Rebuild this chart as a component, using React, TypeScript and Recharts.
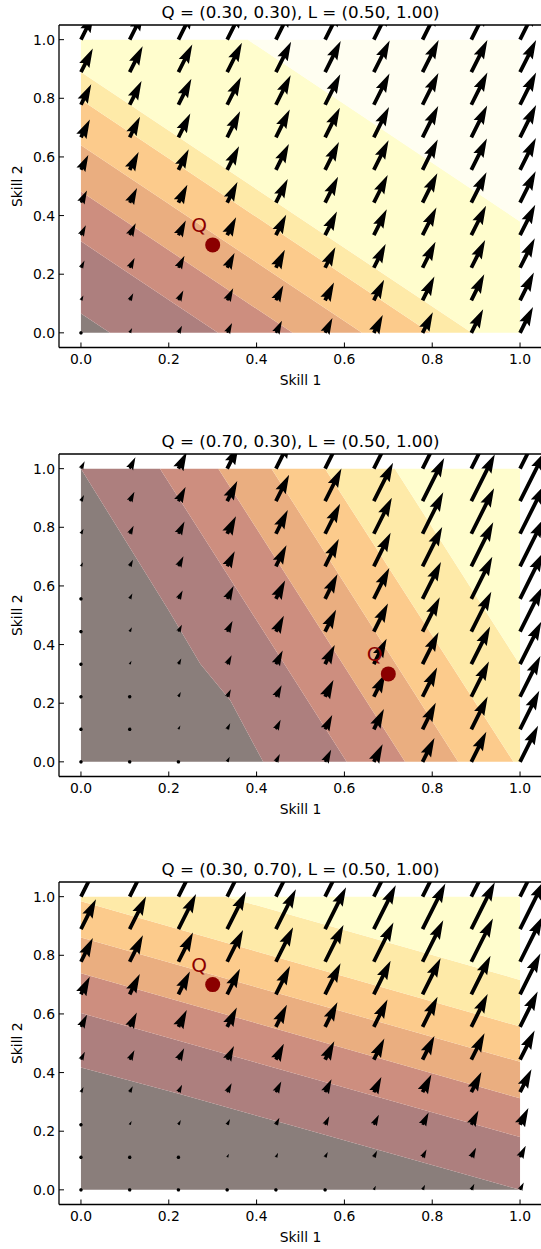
import React from "react";
import { ScatterChart, Scatter, XAxis, YAxis, Label } from "recharts";

const FONT = "'DejaVu Sans', sans-serif";

const axisTicks = [0, 0.2, 0.4, 0.6, 0.8, 1.0];
const gridPos = [0, 0.111, 0.222, 0.333, 0.444, 0.556, 0.667, 0.778, 0.889, 1.0];
const learnVec = [0.5, 1.0];

const titles = [
  "Q = (0.30, 0.30), L = (0.50, 1.00)",
  "Q = (0.70, 0.30), L = (0.50, 1.00)",
  "Q = (0.30, 0.70), L = (0.50, 1.00)",
];
const qPoints = [
  [0.3, 0.3],
  [0.7, 0.3],
  [0.3, 0.7],
];

// contour fill colours, low -> high
const bandColors = ["#8a7e7b", "#ad7f7e", "#cd8e7f", "#eaae80", "#fccb8c", "#feeaa8", "#fffdcd", "#fffef1"];

// filled contour bands (vertices in data units), low -> high
const bands1 = [
  [[0, 0], [0.066, 0], [0, 0.066]],
  [[0, 0.066], [0.066, 0], [0.312, 0], [0, 0.312]],
  [[0, 0.312], [0.312, 0], [0.482, 0], [0, 0.482]],
  [[0, 0.482], [0.482, 0], [0.64, 0], [0, 0.64]],
  [[0, 0.64], [0.64, 0], [0.795, 0], [0, 0.795]],
  [[0, 0.795], [0.795, 0], [0.89, 0], [0, 0.89]],
  [[0, 0.89], [0.89, 0], [1, 0], [1, 0.38], [0.38, 1], [0, 1]],
  [[0.38, 1], [1, 0.38], [1, 1]],
];
const bands2 = [
  [[0, 0], [0.415, 0], [0.34, 0.21], [0.272, 0.334], [0.2, 0.516], [0, 1]],
  [[0, 1], [0.2, 0.516], [0.272, 0.334], [0.34, 0.21], [0.415, 0], [0.605, 0], [0.18, 1]],
  [[0.18, 1], [0.605, 0], [0.738, 0], [0.313, 1]],
  [[0.313, 1], [0.738, 0], [0.859, 0], [0.434, 1]],
  [[0.434, 1], [0.859, 0], [0.985, 0], [0.556, 1]],
  [[0.556, 1], [0.985, 0], [1, 0], [1, 0.33], [0.715, 1]],
  [[0.715, 1], [1, 0.33], [1, 1]],
];
const bands3 = [
  [[0, 0], [1, 0], [0.45, 0.232], [0.225, 0.327], [0, 0.417]],
  [[0, 0.417], [0.225, 0.327], [0.45, 0.232], [1, 0], [1, 0.18], [0, 0.603]],
  [[0, 0.603], [1, 0.18], [1, 0.312], [0, 0.739]],
  [[0, 0.739], [1, 0.312], [1, 0.437], [0, 0.861]],
  [[0, 0.861], [1, 0.437], [1, 0.557], [0, 0.984]],
  [[0, 0.984], [1, 0.557], [1, 0.716], [0.33, 1], [0, 1]],
  [[0.33, 1], [1, 0.716], [1, 1]],
];

// arrow lengths (px) on the 10x10 grid, rows bottom -> top
const arrows1 = [
  [3.5, 5.5, 8, 11, 13.5, 16.5, 20, 23, 26.5, 29],
  [5.5, 8, 11, 13.5, 16.5, 20, 23, 26.5, 29, 31],
  [8, 11, 13.5, 16.5, 20, 23, 26.5, 29, 31, 33],
  [11, 13.5, 16.5, 20, 23, 26.5, 29, 31, 33, 34],
  [13.5, 16.5, 20, 23, 26.5, 29, 31, 33, 34, 35],
  [16.5, 20, 23, 26.5, 29, 31, 33, 34, 35, 35.5],
  [20, 23, 26.5, 29, 31, 33, 34, 35, 35.5, 36],
  [23, 26.5, 29, 31, 33, 34, 35, 35.5, 36, 36],
  [26.5, 29, 31, 33, 34, 35, 35.5, 36, 36, 36],
  [29, 31, 33, 34, 35, 35.5, 36, 36, 36, 36],
];
const arrows2 = [
  [0, 1.4, 3.4, 5.7, 8.8, 13.6, 19.7, 26.6, 33.6, 40.3],
  [0.6, 2.0, 4.3, 6.8, 10.6, 16, 22.6, 29.6, 36.6, 43],
  [1.2, 3.0, 5.3, 8.3, 12.8, 18.7, 25.6, 32.6, 39.4, 45.5],
  [1.8, 4.0, 6.4, 10, 15.2, 21.6, 28.6, 35.6, 42.1, 47.7],
  [2.6, 5.0, 7.8, 12, 17.8, 24.6, 31.6, 38.5, 44.7, 49.8],
  [3.7, 6.0, 9.4, 14.4, 20.6, 27.6, 34.6, 41.2, 47, 51.6],
  [4.6, 7.3, 11.3, 16.9, 23.6, 30.6, 37.6, 43.9, 49.1, 53.1],
  [5.7, 8.8, 13.6, 19.7, 26.6, 33.6, 40.3, 46.3, 51, 54.4],
  [6.8, 10.6, 16, 22.6, 29.6, 36.6, 43, 48.4, 52.6, 55.5],
  [8.3, 12.8, 18.7, 25.6, 32.6, 39.4, 45.5, 50.4, 54, 56.4],
];
const arrows3 = [
  [0, 0.6, 1.2, 1.8, 2.6, 3.7, 4.6, 5.7, 6.8, 8.3],
  [1.4, 2.0, 3.0, 4.0, 5.0, 6.0, 7.3, 8.8, 10.6, 12.8],
  [3.4, 4.3, 5.3, 6.4, 7.8, 9.4, 11.3, 13.6, 16, 18.7],
  [5.7, 6.8, 8.3, 10, 12, 14.4, 16.9, 19.7, 22.6, 25.6],
  [8.8, 10.6, 12.8, 15.2, 17.8, 20.6, 23.6, 26.6, 29.6, 32.6],
  [13.6, 16, 18.7, 21.6, 24.6, 27.6, 30.6, 33.6, 36.6, 39.4],
  [19.7, 22.6, 25.6, 28.6, 31.6, 34.6, 37.6, 40.3, 43, 45.5],
  [26.6, 29.6, 32.6, 35.6, 38.5, 41.2, 43.9, 46.3, 48.4, 50.4],
  [33.6, 36.6, 39.4, 42.1, 44.7, 47, 49.1, 51, 52.6, 54],
  [40.3, 43, 45.5, 47.7, 49.8, 51.6, 53.1, 54.4, 55.5, 56.4],
];

const panels = [
  { title: titles[0], bands: bands1, arrows: arrows1, q: qPoints[0] },
  { title: titles[1], bands: bands2, arrows: arrows2, q: qPoints[1] },
  { title: titles[2], bands: bands3, arrows: arrows3, q: qPoints[2] },
];

// quiver-style arrow (matplotlib geometry, units of shaft width)
const SHAFT = 3.8;
function arrowOutline(len: number): number[][] {
  const L = len / SHAFT;
  if (L < 1) {
    const pts: number[][] = [];
    for (let k = 0; k < 6; k++) {
      const th = (k * Math.PI) / 3;
      pts.push([Math.cos(th) * 0.5, Math.sin(th) * 0.5]);
    }
    return pts;
  }
  if (L < 5) {
    const s = L / 5;
    return [[0, 0.5], [0.5, 0.5], [0, 1.5], [5, 0], [0, -1.5], [0.5, -0.5], [0, -0.5]].map(([a, b]) => [a * s, b * s]);
  }
  return [[0, 0.5], [L - 4.5, 0.5], [L - 5, 1.5], [L, 0], [L - 5, -1.5], [L - 4.5, -0.5], [0, -0.5]];
}

const norm = Math.hypot(learnVec[0], learnVec[1]);
const dirX = learnVec[0] / norm;
const dirY = -learnVec[1] / norm;

const renderArrow = (p: any) => {
  const pts = arrowOutline(p.payload.len)
    .map(([a, b]) => {
      const x = p.cx + SHAFT * (a * dirX - b * dirY);
      const y = p.cy + SHAFT * (a * dirY + b * dirX);
      return `${x.toFixed(2)},${y.toFixed(2)}`;
    })
    .join(" ");
  return <polygon points={pts} fill="#000" stroke="none" />;
};

const renderQ = (p: any) => (
  <g>
    <circle cx={p.cx} cy={p.cy} r={7.5} fill="#8b0000" />
    <text x={p.cx - 21.5} y={p.cy - 12.5} fontSize={20} fill="#8b0000" fontFamily={FONT}>
      Q
    </text>
  </g>
);

const noDot = () => <g />;

const fmt = (v: number) => v.toFixed(1);
const frame = { stroke: "#000", strokeWidth: 1.3 };
const tickLine = { stroke: "#000", strokeWidth: 1 };
const tickText = { fill: "#000", fontSize: 13.9, fontFamily: FONT };
const domain: [number, number] = [-0.05, 1.05];

function Panel({ title, bands, arrows, q }: any) {
  const arrowData = arrows.flatMap((row: number[], j: number) =>
    row.map((len, i) => ({ x: gridPos[i], y: gridPos[j], len }))
  );
  return (
    <ScatterChart width={560} height={429} margin={{ top: 24, right: 17, bottom: 41.5, left: 9 }}>
      <XAxis
        xAxisId="b"
        type="number"
        dataKey="x"
        domain={domain}
        ticks={axisTicks}
        interval={0}
        allowDataOverflow
        tickFormatter={fmt}
        tickSize={-5}
        tickMargin={12}
        height={40}
        axisLine={frame}
        tickLine={tickLine}
        tick={tickText}
      >
        <Label value="Skill 1" position="insideBottom" offset={2.5} fill="#000" fontSize={13.9} fontFamily={FONT} />
      </XAxis>
      <XAxis
        xAxisId="t"
        orientation="top"
        type="number"
        dataKey="x"
        domain={domain}
        ticks={axisTicks}
        interval={0}
        allowDataOverflow
        tick={false}
        tickSize={-5}
        height={1}
        axisLine={frame}
        tickLine={tickLine}
      >
        <Label value={title} position="top" offset={6} fill="#000" fontSize={16.7} fontFamily={FONT} />
      </XAxis>
      <YAxis
        yAxisId="l"
        type="number"
        dataKey="y"
        domain={domain}
        ticks={axisTicks}
        interval={0}
        allowDataOverflow
        tickFormatter={fmt}
        tickSize={-5}
        tickMargin={9}
        width={50}
        axisLine={frame}
        tickLine={tickLine}
        tick={tickText}
      >
        <Label
          value="Skill 2"
          angle={-90}
          position="insideLeft"
          offset={8}
          fill="#000"
          fontSize={13.9}
          fontFamily={FONT}
          style={{ textAnchor: "middle" }}
        />
      </YAxis>
      <YAxis
        yAxisId="r"
        orientation="right"
        type="number"
        dataKey="y"
        domain={domain}
        ticks={axisTicks}
        interval={0}
        allowDataOverflow
        tick={false}
        tickSize={-5}
        width={1}
        axisLine={frame}
        tickLine={tickLine}
      />
      {bands.map((pts: number[][], k: number) => (
        <Scatter
          key={`band-${k}`}
          xAxisId="b"
          yAxisId="l"
          data={pts.map(([x, y]) => ({ x, y }))}
          line={{ fill: bandColors[k], stroke: "none" }}
          shape={noDot}
          isAnimationActive={false}
          legendType="none"
        />
      ))}
      <Scatter
        xAxisId="b"
        yAxisId="l"
        data={arrowData}
        shape={renderArrow}
        isAnimationActive={false}
        legendType="none"
      />
      <Scatter
        xAxisId="b"
        yAxisId="l"
        data={[{ x: q[0], y: q[1] }]}
        shape={renderQ}
        isAnimationActive={false}
        legendType="none"
      />
    </ScatterChart>
  );
}

export default function App() {
  return (
    <div
      style={{
        position: "absolute",
        left: 0,
        top: 0,
        width: 541,
        height: 1249,
        overflow: "hidden",
        background: "#fff",
        fontFamily: FONT,
      }}
    >
      {panels.map((p, i) => (
        <div key={i} style={{ position: "absolute", left: 0, top: i * 428.5 }}>
          <Panel {...p} />
        </div>
      ))}
    </div>
  );
}
